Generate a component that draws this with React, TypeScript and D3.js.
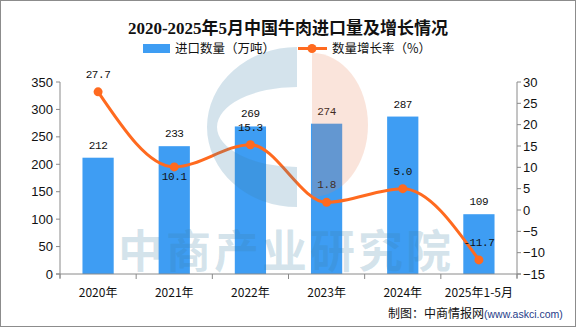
import React from "react";
import * as d3 from "d3";

const categories = ["2020年", "2021年", "2022年", "2023年", "2024年", "2025年1-5月"];
const importVolume = [212, 233, 269, 274, 287, 109];
const growthRate = [27.7, 10.1, 15.3, 1.8, 5.0, -11.7];
const growthLabelSide = ["above", "below", "above", "above", "above", "above"];
const leftTicks = [0, 50, 100, 150, 200, 250, 300, 350];
const rightTicks = [-15, -10, -5, 0, 5, 10, 15, 20, 25, 30];

const W = 576;
const H = 327;
const plotLeft = 60;
const plotRight = 517;
const plotTop = 82;
const plotBottom = 274;

const BAR_COLOR = "#3e9df3";
const LINE_COLOR = "#ff6a1f";
const AXIS_COLOR = "#8a8a8a";
const LABEL_FONT = "'Liberation Mono', 'DejaVu Sans Mono', monospace";
const AXIS_FONT = "'Liberation Sans', Arial, sans-serif";
const CJK_FONT = "'Noto Sans CJK SC', 'Liberation Sans', sans-serif";

export default function App() {
  const x = d3.scaleBand<string>().domain(categories).range([plotLeft, plotRight]).paddingInner(0.59).paddingOuter(0.295);
  const xc = (c: string) => (x(c) as number) + x.bandwidth() / 2;
  const band = (plotRight - plotLeft) / categories.length;
  const yL = d3.scaleLinear().domain([0, 350]).range([plotBottom, plotTop]);
  const yR = d3.scaleLinear().domain([-15, 30]).range([plotBottom, plotTop]);

  const linePts: [number, number][] = categories.map((c, i) => [xc(c), yR(growthRate[i])]);
  const linePath = d3.line().curve(d3.curveMonotoneX)(linePts) || "";

  // watermark logo (decoration)
  const cx = 297, cy = 127;
  const cPath = `M${cx},${cy - 80} A90,80 0 0 0 ${cx},${cy + 80} L${cx},${cy + 40} A80,40 0 0 1 ${cx},${cy - 40} Z`;
  const ox = 312;
  const oPath = `M${ox},${cy - 74} A56,72 0 0 1 ${ox},${cy + 70} Z`;

  return (
    <svg width={W} height={H} style={{ position: "absolute", left: 0, top: 0, background: "#fff" }}>
      <rect x={0.5} y={0.5} width={W - 1} height={H - 1} fill="#fff" stroke="#8c8c8c" />

      {/* Title */}
      <text x={288} y={34} textAnchor="middle" fontSize={17} fontWeight="bold"
        fontFamily="'Liberation Serif', 'Noto Sans CJK SC', serif" fill="#111">
        2020-2025年5月中国牛肉进口量及增长情况
      </text>

      {/* Bars */}
      {categories.map((c, i) => (
        <rect key={c} x={x(c)} y={yL(importVolume[i])} width={x.bandwidth()}
          height={plotBottom - yL(importVolume[i])} fill={BAR_COLOR} />
      ))}

      {/* Axes */}
      <line x1={plotLeft} x2={plotLeft} y1={plotTop} y2={plotBottom + 4} stroke={AXIS_COLOR} />
      <line x1={plotRight} x2={plotRight} y1={plotTop} y2={plotBottom + 4} stroke={AXIS_COLOR} />
      <line x1={plotLeft - 4} x2={plotRight + 4} y1={plotBottom} y2={plotBottom} stroke={AXIS_COLOR} />
      {leftTicks.map((t) => (
        <g key={"l" + t}>
          <line x1={plotLeft - 4} x2={plotLeft} y1={yL(t)} y2={yL(t)} stroke={AXIS_COLOR} />
          <text x={plotLeft - 7} y={yL(t) + 4.5} textAnchor="end" fontSize={13} fontFamily={AXIS_FONT} fill="#111">{t}</text>
        </g>
      ))}
      {rightTicks.map((t) => (
        <g key={"r" + t}>
          <line x1={plotRight} x2={plotRight + 4} y1={yR(t)} y2={yR(t)} stroke={AXIS_COLOR} />
          <text x={plotRight + 6} y={yR(t) + 4.5} textAnchor="start" fontSize={13} fontFamily={AXIS_FONT} fill="#111">
            {t < 0 ? "\u2212" + Math.abs(t) : t}
          </text>
        </g>
      ))}
      {d3.range(categories.length + 1).map((i) => (
        <line key={"xt" + i} x1={plotLeft + i * band} x2={plotLeft + i * band} y1={plotBottom} y2={plotBottom + 5} stroke={AXIS_COLOR} />
      ))}
      {categories.map((c) => (
        <text key={"xl" + c} x={xc(c)} y={297} textAnchor="middle" fontSize={12} fontFamily={CJK_FONT} fill="#111">{c}</text>
      ))}

      {/* Bar labels */}
      {categories.map((c, i) => (
        <text key={"bl" + c} x={xc(c)} y={yL(importVolume[i]) - 9} textAnchor="middle" fontSize={11}
          letterSpacing={-0.4} fontFamily={LABEL_FONT} fill="#111">{importVolume[i]}</text>
      ))}

      {/* Line */}
      <path d={linePath} fill="none" stroke={LINE_COLOR} strokeWidth={3} />
      {linePts.map((p, i) => (
        <circle key={"pt" + i} cx={p[0]} cy={p[1]} r={4.5} fill={LINE_COLOR} />
      ))}
      {linePts.map((p, i) => (
        <text key={"ll" + i} x={p[0]} y={growthLabelSide[i] === "above" ? p[1] - 14 : p[1] + 13}
          textAnchor="middle" fontSize={11} letterSpacing={-0.4} fontFamily={LABEL_FONT} fill="#111">
          {growthRate[i] < 0 ? "-" + Math.abs(growthRate[i]).toFixed(1) : growthRate[i].toFixed(1)}
        </text>
      ))}

      {/* Watermark */}
      <g pointerEvents="none">
        <path d={cPath} fill="#3b7fa8" fillOpacity={0.22} />
        <path d={oPath} fill="#e8845a" fillOpacity={0.22} />
        <text x={286} y={268} textAnchor="middle" fontSize={45} fontWeight="bold" letterSpacing={3}
          fontFamily={CJK_FONT} fill="#3b7fa8" fillOpacity={0.22}>中商产业研究院</text>
      </g>

      {/* Legend (drawn above watermark) */}
      <rect x={143} y={44} width={27} height={9} fill={BAR_COLOR} />
      <text x={175} y={52.5} fontSize={12.5} fontFamily={CJK_FONT} fill="#111">进口数量（万吨）</text>
      <line x1={298} x2={327} y1={48.5} y2={48.5} stroke={LINE_COLOR} strokeWidth={3} />
      <circle cx={312} cy={48.5} r={4.5} fill={LINE_COLOR} />
      <text x={332} y={52.5} fontSize={12.5} fontFamily={CJK_FONT} fill="#111">数量增长率（%）</text>

      {/* Source */}
      <text x={388} y={318} fontSize={12} fontFamily={CJK_FONT} fill="#111">
        制图：中商情报网<tspan fontSize={10.5} fontFamily={AXIS_FONT} fill="#1f3c88">(www.askci.com)</tspan>
      </text>
    </svg>
  );
}
